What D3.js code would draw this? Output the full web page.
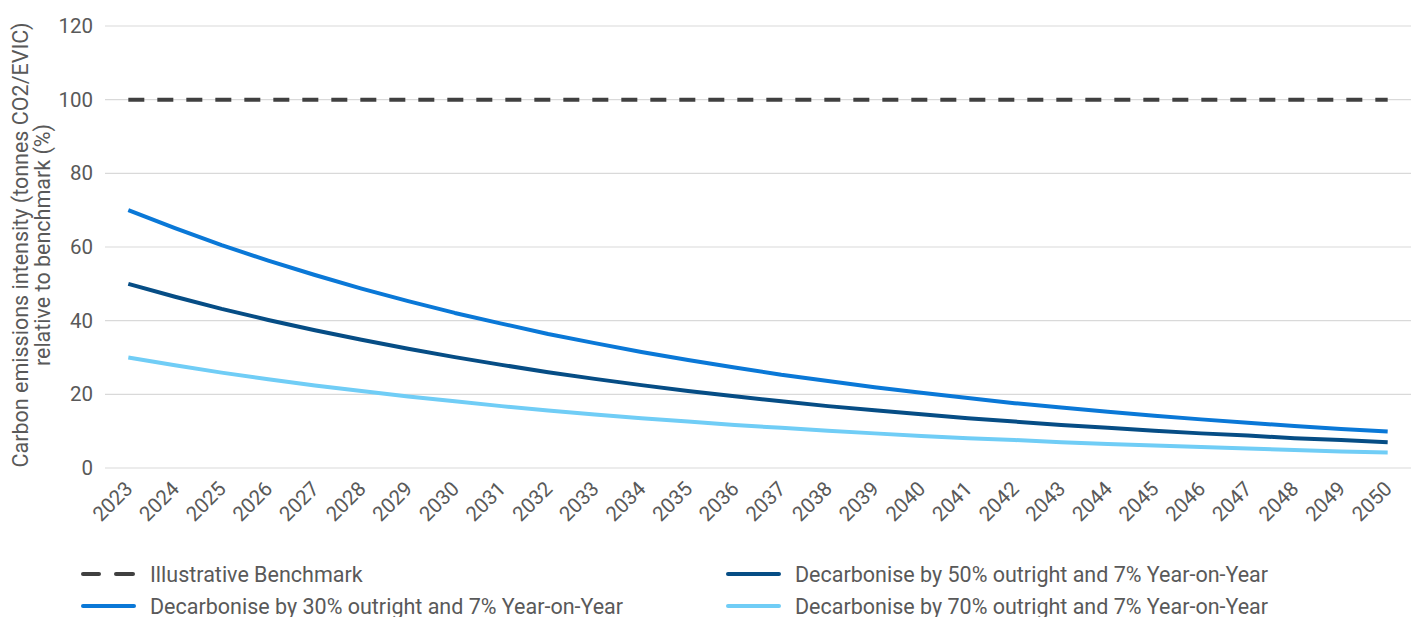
<!DOCTYPE html>
<html><head><meta charset="utf-8">
<script src="https://cdn.jsdelivr.net/npm/d3@7"></script>
<style>body{margin:0;background:#fff;font-family:Roboto, sans-serif;}</style>
</head><body><svg id="c" width="1421" height="617"></svg>
<script>
const years = ["2023","2024","2025","2026","2027","2028","2029","2030","2031","2032","2033","2034","2035","2036","2037","2038","2039","2040","2041","2042","2043","2044","2045","2046","2047","2048","2049","2050"];
const benchmark = [100,100,100,100,100,100,100,100,100,100,100,100,100,100,100,100,100,100,100,100,100,100,100,100,100,100,100,100];
const dec30 = [70,65.1,60.5,56.3,52.4,48.7,45.3,42.1,39.2,36.4,33.9,31.5,29.3,27.3,25.3,23.6,21.9,20.4,19.0,17.6,16.4,15.3,14.2,13.2,12.3,11.4,10.6,9.9];
const dec50 = [50,46.5,43.2,40.2,37.4,34.8,32.4,30.1,28.0,26.0,24.2,22.5,20.9,19.5,18.1,16.8,15.7,14.6,13.5,12.6,11.7,10.9,10.1,9.4,8.8,8.1,7.6,7.0];
const dec70 = [30,27.9,25.9,24.1,22.4,20.9,19.4,18.1,16.8,15.6,14.5,13.5,12.6,11.7,10.9,10.1,9.4,8.7,8.1,7.6,7.0,6.5,6.1,5.7,5.3,4.9,4.5,4.2];
const yTicks = [0,20,40,60,80,100,120];
const seriesNames = ["Illustrative Benchmark","Decarbonise by 30% outright and 7% Year-on-Year","Decarbonise by 50% outright and 7% Year-on-Year","Decarbonise by 70% outright and 7% Year-on-Year"];

(function(){
const svg = d3.select("#c");
const pl = 105, pr = 1411, pt = 26, pb = 468;
const x = d3.scalePoint().domain(years).range([pl, pr]).padding(0.5);
const y = d3.scaleLinear().domain([0,120]).range([pb, pt]);
const textCol = "#595959";

svg.append("g").selectAll("line").data(yTicks).join("line")
  .attr("x1", pl).attr("x2", pr)
  .attr("y1", d=>y(d)).attr("y2", d=>y(d))
  .attr("stroke", "#d9d9d9").attr("stroke-width", 1.2);

const ya = svg.append("g").attr("transform", `translate(${pl},0)`)
  .call(d3.axisLeft(y).tickValues(yTicks).tickSize(0).tickPadding(12));
ya.select(".domain").remove();
ya.selectAll("text").attr("font-size", 20.5).attr("fill", textCol).attr("font-family","Roboto");

const xa = svg.append("g").attr("transform", `translate(0,${pb})`)
  .call(d3.axisBottom(x).tickSize(0).tickPadding(0));
xa.select(".domain").remove();
xa.selectAll("text").attr("font-size", 20.5).attr("fill", textCol).attr("font-family","Roboto")
  .attr("text-anchor","end").attr("dy", null).attr("y", 0)
  .attr("transform", "translate(5,22) rotate(-45)");

const yt = svg.append("text").attr("transform", `translate(28,245) rotate(-90)`)
  .attr("text-anchor","middle").attr("font-size",21.5).attr("fill",textCol).attr("font-family","Roboto");
yt.append("tspan").attr("x",0).attr("dy",0).text("Carbon emissions intensity (tonnes CO2/EVIC)");
yt.append("tspan").attr("x",0).attr("dy",22).text("relative to benchmark (%)");

const series = [
  {name: seriesNames[1], values: dec30, color: "#0a78d7", dash: null},
  {name: seriesNames[2], values: dec50, color: "#064d85", dash: null},
  {name: seriesNames[3], values: dec70, color: "#70cdf6", dash: null},
  {name: seriesNames[0], values: benchmark, color: "#404040", dash: "16,13"}
];
const line = d3.line().x((d,i)=>x(years[i])).y(d=>y(d));
svg.append("g").selectAll("path").data(series).join("path")
  .attr("d", d=>line(d.values)).attr("fill","none")
  .attr("stroke", d=>d.color).attr("stroke-width", 4)
  .attr("stroke-dasharray", d=>d.dash).attr("stroke-linejoin","round");

const legend = [
  {s: series[3], x: 82, y: 574},
  {s: series[0], x: 82, y: 606},
  {s: series[1], x: 727, y: 574},
  {s: series[2], x: 727, y: 606}
];
legend.forEach(l => {
  const g = svg.append("g");
  if (l.s.dash) {
    g.append("line").attr("x1", l.x+1).attr("x2", l.x+17).attr("y1", l.y).attr("y2", l.y)
      .attr("stroke", l.s.color).attr("stroke-width",4).attr("stroke-linecap","round");
    g.append("line").attr("x1", l.x+34).attr("x2", l.x+51).attr("y1", l.y).attr("y2", l.y)
      .attr("stroke", l.s.color).attr("stroke-width",4).attr("stroke-linecap","round");
  } else {
    g.append("line").attr("x1", l.x+1).attr("x2", l.x+52).attr("y1", l.y).attr("y2", l.y)
      .attr("stroke", l.s.color).attr("stroke-width",4).attr("stroke-linecap","round");
  }
  g.append("text").attr("x", l.x+68).attr("y", l.y).attr("dy","0.35em")
    .attr("font-size",21.5).attr("fill",textCol).attr("font-family","Roboto").text(l.s.name);
});
})();
</script></body></html>
